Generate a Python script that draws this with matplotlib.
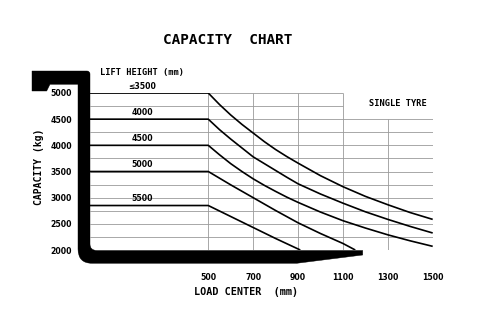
import numpy as np
import matplotlib
matplotlib.use("Agg")
import matplotlib.pyplot as plt
from matplotlib.path import Path
from matplotlib.patches import PathPatch
from matplotlib.transforms import Affine2D

# ---------------- data ----------------
load_center = [500, 550, 600, 650, 700, 750, 800, 850, 900, 1000, 1100, 1200, 1300, 1400, 1500]
cap_3500 = [5000, 4780, 4580, 4400, 4235, 4070, 3920, 3785, 3660, 3420, 3210, 3025, 2865, 2715, 2585]
cap_4000 = [4500, 4300, 4120, 3950, 3780, 3650, 3520, 3390, 3265, 3070, 2895, 2730, 2585, 2450, 2325]
cap_4500 = [4000, 3820, 3650, 3500, 3360, 3235, 3120, 3010, 2910, 2725, 2560, 2420, 2290, 2175, 2070]
lc_5000 = [500, 600, 700, 800, 900, 1000, 1100, 1155]
cap_5000 = [3500, 3245, 3000, 2755, 2520, 2315, 2125, 2000]
lc_5500 = [500, 600, 700, 800, 910]
cap_5500 = [2850, 2640, 2430, 2220, 2000]

series = [
    ("\u22643500", load_center, cap_3500),
    ("4000", load_center, cap_4000),
    ("4500", load_center, cap_4500),
    ("5000", lc_5000, cap_5000),
    ("5500", lc_5500, cap_5500),
]

x_ticks = [500, 700, 900, 1100, 1300, 1500]
y_ticks = [2000, 2500, 3000, 3500, 4000, 4500, 5000]
y_grid = list(range(2000, 5001, 250))

W, H = 492, 322
fig = plt.figure(figsize=(W / 100, H / 100), dpi=100)
fig.patch.set_facecolor("white")

# pixel (top-left origin) -> figure transform
px = Affine2D().scale(1 / W, -1 / H).translate(0, 1) + fig.transFigure

ax = fig.add_axes([90 / W, (H - 250) / H, (432.7 - 90) / W, 157 / H])
xmin = -27
ax.set_xlim(xmin, 1500)
ax.set_ylim(2000, 5000)
for s in ax.spines.values():
    s.set_visible(False)

grid_c = "#9a9a9a"
for yv in y_grid:
    ax.hlines(yv, xmin, 1100 if yv > 4500 else 1500, color=grid_c, lw=0.6, zorder=1)
for xv in x_ticks:
    ax.vlines(xv, 2000, 5000 if xv <= 1100 else 4500, color=grid_c, lw=0.6, zorder=1)

for label, xs, ys in series:
    ax.plot([xmin] + list(xs), [ys[0]] + list(ys), color="black", lw=1.2,
            zorder=3, solid_capstyle="butt", solid_joinstyle="round")
    ax.annotate(label, xy=(205, ys[0]), xytext=(0, 1.5), textcoords="offset points",
                ha="center", va="bottom", fontsize=5.6, fontweight="bold",
                family="DejaVu Sans", zorder=4)

ax.set_xticks(x_ticks)
ax.set_xticklabels([str(v) for v in x_ticks])
ax.set_yticks(y_ticks)
ax.set_yticklabels([str(v) for v in y_ticks])
ax.tick_params(axis="both", length=0, labelsize=5.6)
ax.tick_params(axis="x", pad=16.5)
ax.tick_params(axis="y", pad=13)
for t in ax.get_xticklabels() + ax.get_yticklabels():
    t.set_fontweight("bold")
    t.set_family("DejaVu Sans")

# fork outline (decoration), drawn in pixel coords
verts = [
    (32, 71), (87, 71), (90, 71), (90, 74), (90, 244), (90, 250.5), (97, 250.5),
    (362.7, 250.5), (362.7, 255), (296.7, 263.3), (92, 263.3), (78, 263.3), (78, 249),
    (78, 84.3), (50, 84.3), (46.7, 91), (32, 91), (32, 71),
]
codes = [
    Path.MOVETO, Path.LINETO, Path.CURVE3, Path.CURVE3, Path.LINETO, Path.CURVE3, Path.CURVE3,
    Path.LINETO, Path.LINETO, Path.LINETO, Path.LINETO, Path.CURVE3, Path.CURVE3,
    Path.LINETO, Path.LINETO, Path.LINETO, Path.LINETO, Path.CLOSEPOLY,
]
fork = PathPatch(Path(verts, codes), facecolor="black", edgecolor="black", lw=0.3,
                 transform=px, zorder=5)
fig.patches.append(fork)

mono = "DejaVu Sans Mono"
fig.text(227.5, 40, "CAPACITY  CHART", transform=px, ha="center", va="center",
         fontsize=10.4, fontweight="bold", family=mono)
fig.text(142.5, 72.5, "LIFT HEIGHT (mm)", transform=px, ha="center", va="center",
         fontsize=6.2, fontweight="bold", family=mono)
fig.text(397.5, 104, "SINGLE TYRE", transform=px, ha="center", va="center",
         fontsize=6.2, fontweight="bold", family=mono)
fig.text(246.5, 292, "LOAD CENTER  (mm)", transform=px, ha="center", va="center",
         fontsize=7.3, fontweight="bold", family=mono)
fig.text(39, 166.5, "CAPACITY (kg)", transform=px, ha="center", va="center",
         rotation=90, fontsize=7.0, fontweight="bold", family=mono)

fig.savefig("out.png", dpi=100, facecolor="white")
